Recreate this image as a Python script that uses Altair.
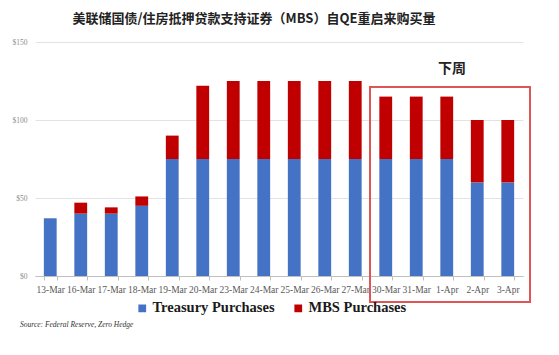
import altair as alt
import pandas as pd

dates = ["13-Mar", "16-Mar", "17-Mar", "18-Mar", "19-Mar", "20-Mar", "23-Mar", "24-Mar",
         "25-Mar", "26-Mar", "27-Mar", "30-Mar", "31-Mar", "1-Apr", "2-Apr", "3-Apr"]
treasury = [37, 40, 40, 45, 75, 75, 75, 75, 75, 75, 75, 75, 75, 75, 60, 60]
mbs = [0, 7, 4, 6, 15, 47, 50, 50, 50, 50, 50, 40, 40, 40, 40, 40]
series = ["Treasury Purchases", "MBS Purchases"]
colors = ["#4472C4", "#C00000"]
y_ticks = [0, 50, 100, 150]

title_text = "美联储国债/住房抵押贷款支持证券（MBS）自QE重启来购买量"
note_text = "下周"
source_text = "Source: Federal Reserve, Zero Hedge"

rows = []
for d, t, m in zip(dates, treasury, mbs):
    rows.append({"date": d, "series": series[0], "value": t, "ord": 0})
    rows.append({"date": d, "series": series[1], "value": m, "ord": 1})
df = pd.DataFrame(rows)

W, H = 488, 234

bars = alt.Chart(df).mark_bar().encode(
    x=alt.X("date:N", sort=dates, title=None,
            scale=alt.Scale(paddingInner=0.58, paddingOuter=0.29),
            axis=alt.Axis(labelAngle=0, labelFont="Liberation Serif", labelFontSize=9.5,
                          labelColor="#595959", labelOverlap=False, labelPadding=4,
                          domainColor="#bfbfbf", tickColor="#bfbfbf", tickSize=4,
                          tickBand="extent", grid=False)),
    y=alt.Y("value:Q", stack="zero", title=None,
            scale=alt.Scale(domain=[0, 150], nice=False),
            axis=alt.Axis(values=y_ticks, labelExpr="'$' + datum.value",
                          labelFont="Liberation Serif", labelFontSize=7.5,
                          labelColor="#8c8c8c", labelPadding=8, domain=False,
                          ticks=False, gridColor="#e3e3e3")),
    color=alt.Color("series:N", scale=alt.Scale(domain=series, range=colors),
                    legend=alt.Legend(orient="none", legendX=100, legendY=259,
                                      direction="horizontal", title=None,
                                      symbolType="square", symbolSize=60,
                                      symbolStrokeWidth=0, labelFont="Liberation Serif",
                                      labelFontWeight="bold", labelFontSize=14.5,
                                      labelColor="#1a1a1a", columnPadding=16,
                                      labelOffset=3, padding=0)),
    order=alt.Order("ord:Q", sort="ascending"),
)

box = alt.Chart(pd.DataFrame({"a": [0]})).mark_rect(
    filled=False, stroke="#dd5555", strokeWidth=2
).encode(x=alt.value(335), x2=alt.value(495), y=alt.value(45), y2=alt.value(260))

title = alt.Chart(pd.DataFrame({"t": [title_text]})).mark_text(
    font="Noto Sans CJK SC", fontWeight="bold", fontSize=13, color="#222222",
    align="center", baseline="middle"
).encode(text="t:N", x=alt.value(219), y=alt.value(-23))

note = alt.Chart(pd.DataFrame({"t": [note_text]})).mark_text(
    font="Noto Sans CJK SC", fontWeight="bold", fontSize=14, color="#222222",
    align="center", baseline="middle"
).encode(text="t:N", x=alt.value(417), y=alt.value(27))

source = alt.Chart(pd.DataFrame({"t": [source_text]})).mark_text(
    font="Liberation Serif", fontStyle="italic", fontSize=7.5, color="#333333",
    align="left", baseline="middle"
).encode(text="t:N", x=alt.value(-15), y=alt.value(283))

chart = alt.layer(bars, box, title, note, source).properties(
    width=W, height=H,
    autosize=alt.AutoSizeParams(type="none"),
    padding={"left": 35, "top": 42, "right": 36, "bottom": 79},
    background="white",
).configure_view(stroke=None)

chart.save("out.html", embed_options={"renderer": "svg", "actions": False})
